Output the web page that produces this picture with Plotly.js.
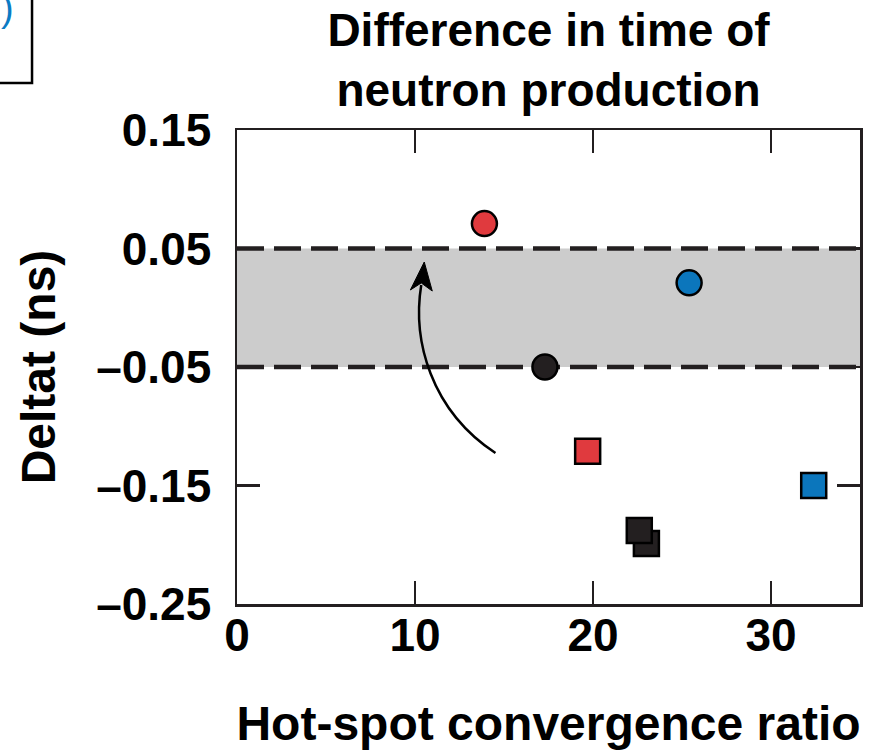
<!DOCTYPE html>
<html>
<head>
<meta charset="utf-8">
<script src="https://cdn.plot.ly/plotly-3.0.1.min.js"></script>
<style>html,body{margin:0;padding:0;background:#fff;}#chart{width:871px;height:750px;}</style>
</head>
<body>
<div id="chart"></div>
<script>
// Data
const circleX = [13.9, 25.4, 17.3];
const circleY = [0.071, 0.021, -0.050];
const circleColors = ['#e03a3e', '#0b76bc', '#231f20'];
const squareX = [19.7, 32.4, 23.0, 22.6];
const squareY = [-0.121, -0.150, -0.199, -0.188];
const squareColors = ['#e03a3e', '#0b76bc', '#231f20', '#231f20'];
const bandLow = -0.05;
const bandHigh = 0.05;
const xTickVals = [0, 10, 20, 30];
const xTickText = ['0', '10', '20', '30'];
const yTickVals = [0.15, 0.05, -0.05, -0.15, -0.25];
const yTickText = ['0.15', '0.05', '\u20130.05', '\u20130.15', '\u20130.25'];
const titleText = 'Difference in time of<br>neutron production';
const xTitle = 'Hot-spot convergence ratio';
const yTitle = 'Deltat (ns)';

// Curved arrow (data units)
const arrowCurve = {p0: [14.52, -0.1226], c1: [10.86, -0.0863], c2: [9.85, -0.0272], p3: [10.35, 0.0192]};
const arrowHead = [[10.52, 0.0386], [9.74, 0.0150], [10.35, 0.0209], [10.97, 0.0141]];

const ink = '#231f20';
const fontFam = 'Liberation Sans, Arial, Helvetica, sans-serif';

const traces = [
  {
    type: 'scatter', mode: 'markers', x: circleX, y: circleY,
    marker: {symbol: 'circle', size: 25, color: circleColors, line: {color: '#000', width: 2.5}},
    showlegend: false, hoverinfo: 'skip'
  },
  {
    type: 'scatter', mode: 'markers', x: squareX, y: squareY,
    marker: {symbol: 'square', size: 25, color: squareColors, line: {color: '#000', width: 2.5}},
    showlegend: false, hoverinfo: 'skip'
  }
];

const c = arrowCurve;
const curvePath = `M ${c.p0[0]},${c.p0[1]} C ${c.c1[0]},${c.c1[1]} ${c.c2[0]},${c.c2[1]} ${c.p3[0]},${c.p3[1]}`;
const headPath = 'M ' + arrowHead.map(p => p[0] + ',' + p[1]).join(' L ') + ' Z';

const layout = {
  width: 871, height: 750,
  margin: {l: 237, r: 11, t: 130, b: 146, pad: 0},
  paper_bgcolor: '#ffffff', plot_bgcolor: '#ffffff',
  font: {family: fontFam, color: '#000'},
  title: {
    text: titleText,
    font: {family: fontFam, size: 46, weight: 'bold', color: '#000'},
    x: 0.5, xref: 'paper', xanchor: 'center',
    y: 1 - 46 / 750, yref: 'container', yanchor: 'middle'
  },
  xaxis: {
    range: [0, 35], tickvals: xTickVals, ticktext: xTickText,
    ticks: 'inside', ticklen: 23, tickwidth: 2.5, tickcolor: ink,
    showline: true, linewidth: 2.5, linecolor: ink, mirror: 'ticks',
    showgrid: false, zeroline: false,
    tickfont: {family: fontFam, size: 46, weight: 'bold', color: '#000'},
    ticklabelstandoff: -11,
    title: {text: xTitle, font: {family: fontFam, size: 48, weight: 'bold', color: '#000'}, standoff: 70},
    automargin: false, fixedrange: true
  },
  yaxis: {
    range: [-0.25, 0.15], tickvals: yTickVals, ticktext: yTickText,
    ticks: 'inside', ticklen: 23, tickwidth: 2.5, tickcolor: ink,
    showline: true, linewidth: 2.5, linecolor: ink, mirror: 'ticks',
    showgrid: false, zeroline: false,
    tickfont: {family: fontFam, size: 46, weight: 'bold', color: '#000'},
    ticklabelstandoff: 14,
    title: {text: yTitle, font: {family: fontFam, size: 48, weight: 'bold', color: '#000'}, standoff: 26},
    automargin: false, fixedrange: true
  },
  shapes: [
    {type: 'rect', xref: 'paper', yref: 'y', x0: 0, x1: 1, y0: bandLow, y1: bandHigh,
     fillcolor: '#cccccc', line: {width: 0}, layer: 'below'},
    {type: 'line', xref: 'paper', yref: 'y', x0: 0, x1: 1, y0: bandHigh, y1: bandHigh,
     line: {color: ink, width: 4.5, dash: '27px,10px'}, layer: 'below'},
    {type: 'line', xref: 'paper', yref: 'y', x0: 0, x1: 1, y0: bandLow, y1: bandLow,
     line: {color: ink, width: 4.5, dash: '27px,10px'}, layer: 'below'},
    {type: 'path', xref: 'x', yref: 'y', path: curvePath, line: {color: '#000', width: 2.5}},
    {type: 'path', xref: 'x', yref: 'y', path: headPath, fillcolor: '#000', line: {color: '#000', width: 1}},
    // partial box cut off at top-left
    {type: 'rect', xref: 'paper', yref: 'paper', x0: -0.6, x1: -0.329, y0: 1.099, y1: 1.4,
     line: {color: '#000', width: 2.5}, fillcolor: 'rgba(0,0,0,0)'}
  ],
  annotations: [
    {text: ')', xref: 'paper', yref: 'paper', x: -0.3676, y: 1.258, xanchor: 'center', yanchor: 'middle',
     showarrow: false, font: {family: fontFam, size: 38, color: '#0b7bc4'}}
  ]
};

Plotly.newPlot('chart', traces, layout, {displayModeBar: false, staticPlot: true});
</script>
</body>
</html>
